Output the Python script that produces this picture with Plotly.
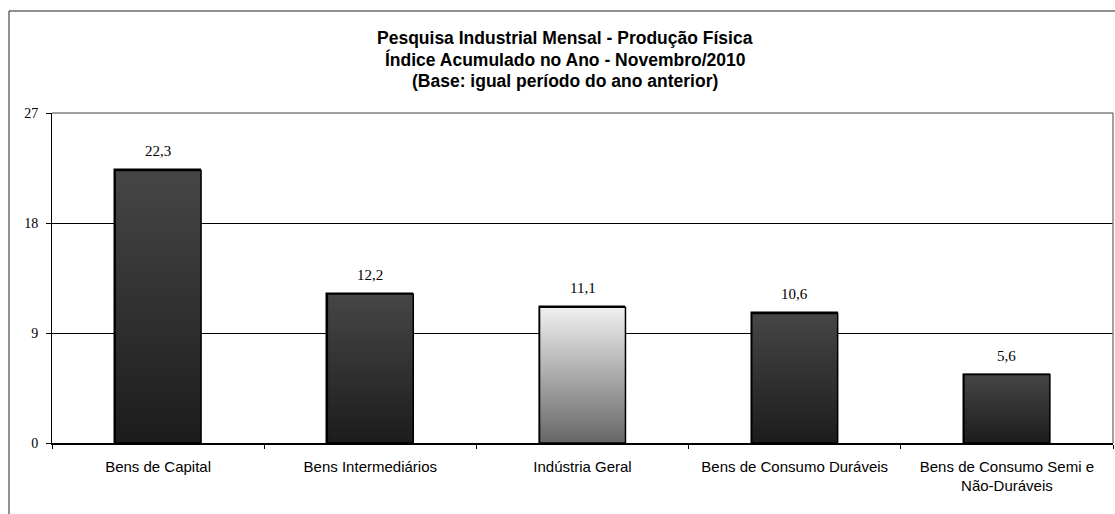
import plotly.graph_objects as go

categories = ["Bens de Capital", "Bens Intermediários", "Indústria Geral",
              "Bens de Consumo Duráveis", "Bens de Consumo Semi e<br>Não-Duráveis"]
values = [22.3, 12.2, 11.1, 10.6, 5.6]
y_ticks = [0, 9, 18, 27]
highlight = "Indústria Geral"

title_lines = ["Pesquisa Industrial Mensal - Produção Física",
               "Índice Acumulado no Ano - Novembro/2010",
               "(Base: igual período do ano anterior)"]

W, H = 1115, 514
ml, mr, mt, mb = 52, 2, 113, 71
pw, ph = W - ml - mr, H - mt - mb
bar_w = 0.405

dark_scale = [[0, "#1c1c1c"], [1, "#464646"]]
light_scale = [[0, "#666666"], [1, "#f0f0f0"]]

fig = go.Figure()
fig.add_trace(go.Bar(x=categories, y=values, width=bar_w,
                     marker=dict(color="#2a2a2a", line=dict(color="black", width=1.5)),
                     hoverinfo="skip", showlegend=False))

for i, (c, v) in enumerate(zip(categories, values)):
    x0, x1 = i - bar_w / 2, i + bar_w / 2
    fig.add_trace(go.Scatter(
        x=[x0, x1, x1, x0, x0], y=[0, 0, v, v, 0], xaxis="x2", yaxis="y",
        mode="lines", fill="toself",
        fillgradient=dict(type="vertical",
                          colorscale=light_scale if c == highlight else dark_scale,
                          start=0, stop=v),
        line=dict(color="black", width=1.5), showlegend=False, hoverinfo="skip"))
    fig.add_annotation(x=i, y=v, xref="x2", yref="y", text=f"{v:.1f}".replace(".", ","),
                       showarrow=False, yanchor="bottom", yshift=9,
                       font=dict(family="Liberation Serif", size=15, color="black"))

# title as three lines (pixel centres measured from reference)
for line, py in zip(title_lines, [38.5, 59.5, 80.5]):
    fig.add_annotation(text=f"<b>{line}</b>", xref="paper", yref="paper",
                       x=(565 - ml) / pw, y=(H - mb - py) / ph,
                       xanchor="center", yanchor="middle", showarrow=False,
                       font=dict(family="Liberation Sans", size=17.5, color="black"))

fig.update_layout(
    width=W, height=H,
    margin=dict(l=ml, r=mr, t=mt, b=mb),
    paper_bgcolor="white", plot_bgcolor="white",
    bargap=0,
    xaxis=dict(type="category", range=[-0.5, 4.5], tickson="boundaries", ticks="outside",
               ticklen=4, tickcolor="black", showline=True, linecolor="black", linewidth=1.5,
               showgrid=False, ticklabelstandoff=9,
               tickfont=dict(family="Liberation Sans", size=15, color="black")),
    xaxis2=dict(overlaying="x", range=[-0.5, 4.5], visible=False),
    yaxis=dict(range=[0, 27], tickvals=y_ticks, ticktext=[str(t) for t in y_ticks],
               ticks="outside", ticklen=5, tickcolor="black", showline=True,
               linecolor="black", linewidth=1, showgrid=True, gridcolor="black",
               gridwidth=1, zeroline=False, ticklabelstandoff=5,
               tickfont=dict(family="Liberation Serif", size=14, color="black")),
)

# plot-area border (grey top and right), outer chart border
fig.add_shape(type="line", xref="paper", yref="paper", x0=0, x1=1, y0=1, y1=1,
              line=dict(color="#808080", width=1.5), layer="above")
fig.add_shape(type="line", xref="paper", yref="paper", x0=1, x1=1, y0=0, y1=1,
              line=dict(color="#808080", width=1.5), layer="above")
fig.add_shape(type="rect", xref="paper", yref="paper",
              x0=(9 - ml) / pw, x1=(1125 - ml) / pw,
              y0=(H - mb - 530) / ph, y1=(H - mb - 11) / ph,
              line=dict(color="#222222", width=1), layer="below")

fig.write_html("out.html", config={"displayModeBar": False},
               post_script="document.body.style.margin='0';document.body.style.overflow='hidden';")
